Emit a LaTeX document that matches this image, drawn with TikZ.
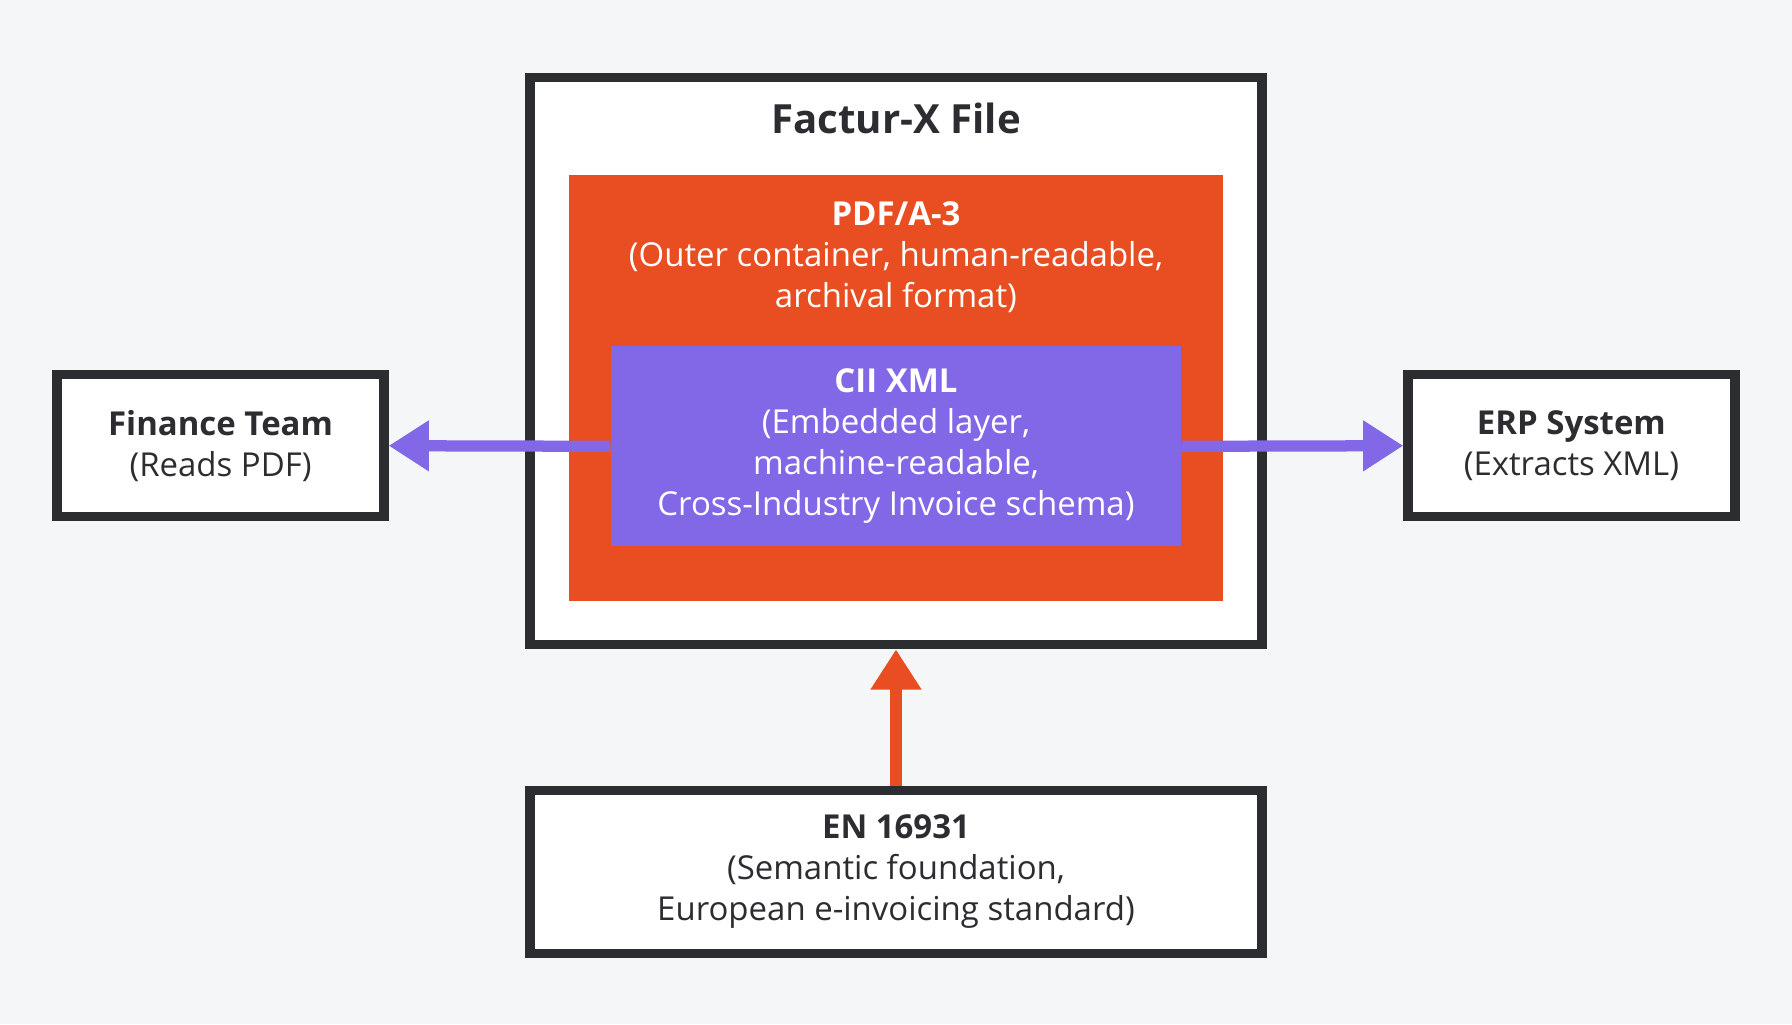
\documentclass[tikz,border=0pt]{standalone}
\usepackage{fontspec}
\setmainfont{Open Sans}
\usetikzlibrary{arrows.meta}
\definecolor{bg}{HTML}{F4F6F8}
\definecolor{dk}{HTML}{2B2D31}
\definecolor{org}{HTML}{E94E22}
\definecolor{pur}{HTML}{8268E6}
\tikzset{
 box/.style={draw=dk,line width=2.3pt,fill=white,align=center,text=dk,font=\fontsize{8.2pt}{10.2pt}\selectfont,inner sep=0pt},
 parr/.style={pur,line width=2.8pt,-{Triangle[length=10pt,width=12pt]}},
 oarr/.style={org,line width=2.8pt,-{Triangle[length=10pt,width=12pt]}}
}
\begin{document}
\begin{tikzpicture}[x=0.01cm,y=-0.01cm]
\fill[bg] (0,0) rectangle (1568,896);
\useasboundingbox (0,0) rectangle (1568,896);
\node[box,minimum width=6.4cm,minimum height=4.96cm] (outer) at (784,316) {};
\node[text=dk,font=\fontsize{10pt}{12pt}\selectfont\bfseries] (title) at (784,104) {Factur-X File};
\node[fill=org,minimum width=5.72cm,minimum height=3.73cm,inner sep=0pt] (pdf) at (784,339.5) {};
\node[text=white,align=center,font=\fontsize{8.2pt}{10.2pt}\selectfont] (pdft) at (784,225) {\textbf{PDF/A-3}\\(Outer container, human-readable,\\archival format)};
\node[fill=pur,minimum width=4.98cm,minimum height=1.75cm,inner sep=0pt,text=white,align=center,font=\fontsize{8.2pt}{10.2pt}\selectfont] (cii) at (784,390.5) {\textbf{CII XML}\\(Embedded layer,\\machine-readable,\\Cross-Industry Invoice schema)};
\node[box,minimum width=2.86cm,minimum height=1.24cm] (fin) at (193,390) {\textbf{Finance Team}\\(Reads PDF)};
\node[box,minimum width=2.86cm,minimum height=1.24cm] (erp) at (1375,390) {\textbf{ERP System}\\(Extracts XML)};
\node[box,minimum width=6.4cm,minimum height=1.42cm] (en) at (784,763) {\textbf{EN 16931}\\(Semantic foundation,\\European e-invoicing standard)};
\draw[parr] (cii.west) -- (fin.east);
\draw[parr] (cii.east) -- (erp.west);
\draw[oarr] (en.north) -- (outer.south);
\end{tikzpicture}
\end{document}
